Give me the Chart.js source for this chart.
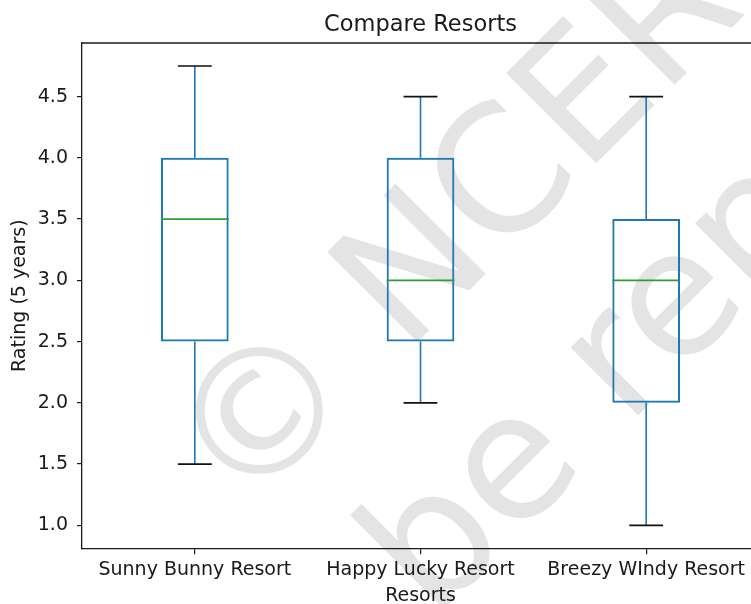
<!DOCTYPE html>
<html>
<head>
<meta charset="utf-8">
<script src="https://cdn.jsdelivr.net/npm/chart.js@4"></script>
<style>
  html, body { margin: 0; padding: 0; background: #fff; overflow: hidden; }
  #wrap { position: absolute; left: 0; top: 0; width: 780px; height: 604px; }
</style>
</head>
<body>
<div id="wrap"><canvas id="boxChart" width="780" height="604"></canvas></div>
<script>
// ---------- data ----------
const resorts = ["Sunny Bunny Resort", "Happy Lucky Resort", "Breezy WIndy Resort"];
const whiskerLow = [1.5, 2.0, 1.0];
const quartile1 = [2.5, 2.5, 2.0];
const medians = [3.5, 3.0, 3.0];
const quartile3 = [4.0, 4.0, 3.5];
const whiskerHigh = [4.75, 4.5, 4.5];
const yTicks = [1.0, 1.5, 2.0, 2.5, 3.0, 3.5, 4.0, 4.5];

// ---------- style ----------
const BOX_BLUE = "#1f77b4";
const MEDIAN_GREEN = "#2ca02c";
const INK = "#1a1a1a";
const FONT = "DejaVu Sans";

Chart.defaults.font.family = FONT;
Chart.defaults.color = INK;

// y limits padded by 5% of the data span
const lo = Math.min(...whiskerLow);
const hi = Math.max(...whiskerHigh);
const pad = (hi - lo) * 0.05;

// faint diagonal copyright stamp behind everything
const stampPlugin = {
  id: "stamp",
  beforeDraw(chart) {
    const ctx = chart.ctx;
    ctx.save();
    ctx.fillStyle = "#fff";
    ctx.fillRect(0, 0, chart.width, chart.height);
    ctx.translate(375.5, 302);
    ctx.rotate(-Math.PI / 4);
    ctx.fillStyle = "#e4e4e4";
    ctx.font = "175px '" + FONT + "'";
    ctx.textBaseline = "alphabetic";
    ctx.textAlign = "left";
    const l1 = "\u00A9 NCERT";
    ctx.fillText(l1, -159 - ctx.measureText("\u00A9").width / 2, 58);
    const l2 = "not to be republished";
    const pre = ctx.measureText("not to ").width;
    ctx.fillText(l2, -129 - pre - ctx.measureText("b").width / 2, 266);
    ctx.restore();
  },
};

// whiskers, caps, medians and the top/right frame
const boxPlugin = {
  id: "boxParts",
  afterDatasetsDraw(chart) {
    const ctx = chart.ctx;
    const xs = chart.scales.x;
    const ys = chart.scales.y;
    const area = chart.chartArea;
    const step = xs.getPixelForValue(1) - xs.getPixelForValue(0);
    const halfBox = step * 0.15;
    const halfCap = step * 0.075;

    ctx.save();
    ctx.lineWidth = 1.6;
    resorts.forEach((_, i) => {
      const x = xs.getPixelForValue(i);
      const yLo = ys.getPixelForValue(whiskerLow[i]);
      const yQ1 = ys.getPixelForValue(quartile1[i]);
      const yMed = ys.getPixelForValue(medians[i]);
      const yQ3 = ys.getPixelForValue(quartile3[i]);
      const yHi = ys.getPixelForValue(whiskerHigh[i]);

      ctx.strokeStyle = BOX_BLUE;
      ctx.beginPath();
      ctx.moveTo(x, yQ3); ctx.lineTo(x, yHi);
      ctx.moveTo(x, yQ1); ctx.lineTo(x, yLo);
      ctx.stroke();

      ctx.strokeStyle = "#111";
      ctx.beginPath();
      ctx.moveTo(x - halfCap, yHi); ctx.lineTo(x + halfCap, yHi);
      ctx.moveTo(x - halfCap, yLo); ctx.lineTo(x + halfCap, yLo);
      ctx.stroke();

      ctx.strokeStyle = MEDIAN_GREEN;
      ctx.beginPath();
      ctx.moveTo(x - halfBox, yMed); ctx.lineTo(x + halfBox, yMed);
      ctx.stroke();
    });

    ctx.strokeStyle = INK;
    ctx.lineWidth = 1.3;
    ctx.beginPath();
    ctx.moveTo(area.left, area.top); ctx.lineTo(area.right, area.top);
    ctx.lineTo(area.right, area.bottom);
    ctx.stroke();
    ctx.restore();
  },
};

new Chart(document.getElementById("boxChart"), {
  type: "bar",
  data: {
    labels: resorts,
    datasets: [{
      data: quartile1.map((q, i) => [q, quartile3[i]]),
      backgroundColor: "rgba(0,0,0,0)",
      borderColor: BOX_BLUE,
      borderWidth: 2,
      borderSkipped: false,
      barPercentage: 0.3,
      categoryPercentage: 1,
    }],
  },
  options: {
    responsive: false,
    animation: false,
    events: [],
    layout: { padding: { left: 0, right: 21, top: 0, bottom: 0 } },
    plugins: {
      legend: { display: false },
      tooltip: { enabled: false },
      title: {
        display: true,
        text: "Compare Resorts",
        fullSize: false,
        color: INK,
        font: { size: 22.5, weight: "normal", lineHeight: 1.2 },
        padding: { top: 12, bottom: 4 },
      },
    },
    scales: {
      x: {
        offset: true,
        grid: { offset: false, drawOnChartArea: false, drawTicks: true, tickLength: 6, color: INK, lineWidth: 1.2 },
        border: { display: true, color: INK, width: 1.3 },
        ticks: { color: INK, font: { size: 19 }, padding: 4, maxRotation: 0, autoSkip: false },
        title: {
          display: true,
          text: "Resorts",
          color: INK,
          font: { size: 19, lineHeight: 0.8 },
          padding: { top: 0, bottom: 0 },
        },
        afterFit(scale) { scale.height = 604 - 548.3; },
      },
      y: {
        min: lo - pad,
        max: hi + pad,
        afterBuildTicks(scale) { scale.ticks = yTicks.map((v) => ({ value: v })); },
        grid: { drawOnChartArea: false, drawTicks: true, tickLength: 5, color: INK, lineWidth: 1.2 },
        border: { display: true, color: INK, width: 1.3 },
        ticks: { color: INK, font: { size: 19 }, padding: 9, callback: (v) => Number(v).toFixed(1) },
        title: {
          display: true,
          text: "Rating (5 years)",
          color: INK,
          font: { size: 19, lineHeight: 1.2 },
          padding: { top: 9, bottom: 0 },
        },
        afterFit(scale) { scale.width = 82; },
      },
    },
  },
  plugins: [stampPlugin, boxPlugin],
});
</script>
</body>
</html>
